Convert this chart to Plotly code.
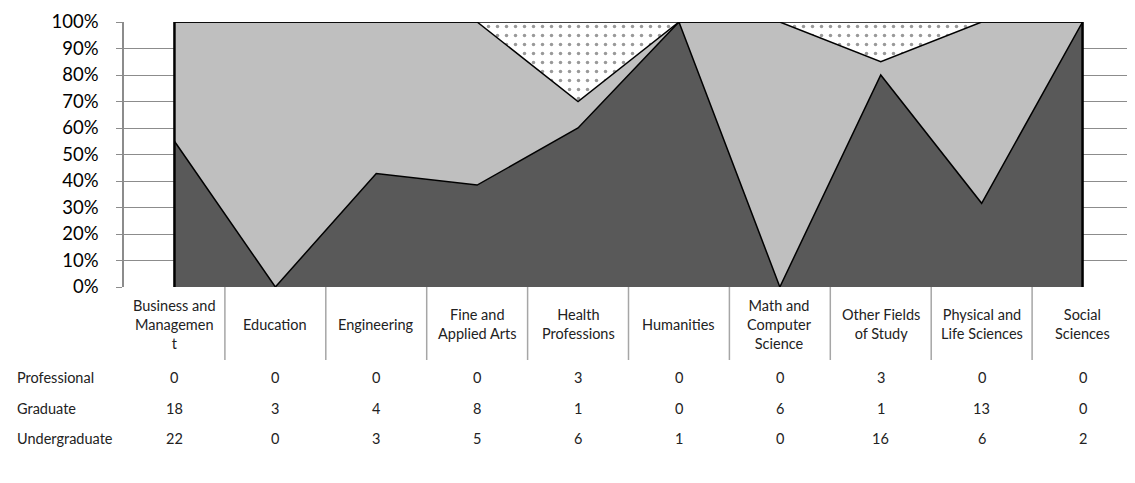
import plotly.graph_objects as go

# data
categories = [
    "Business and Management", "Education", "Engineering", "Fine and Applied Arts",
    "Health Professions", "Humanities", "Math and Computer Science",
    "Other Fields of Study", "Physical and Life Sciences", "Social Sciences",
]
category_labels = [
    "Business and<br>Managemen<br>t", "Education", "Engineering", "Fine and<br>Applied Arts",
    "Health<br>Professions", "Humanities", "Math and<br>Computer<br>Science",
    "Other Fields<br>of Study", "Physical and<br>Life Sciences", "Social<br>Sciences",
]
professional = [0, 0, 0, 0, 3, 0, 0, 3, 0, 0]
graduate = [18, 3, 4, 8, 1, 0, 6, 1, 13, 0]
undergraduate = [22, 0, 3, 5, 6, 1, 0, 16, 6, 2]
y_ticks = list(range(0, 101, 10))

FONT = "Lato"


def main():
    fig = go.Figure()

    # stacked 100% areas, bottom first
    fig.add_trace(go.Scatter(
        x=categories, y=undergraduate, name="Undergraduate",
        stackgroup="one", groupnorm="percent", mode="lines",
        line=dict(color="black", width=1.5), fillcolor="#595959",
    ))
    fig.add_trace(go.Scatter(
        x=categories, y=graduate, name="Graduate",
        stackgroup="one", mode="lines",
        line=dict(color="black", width=1.5), fillcolor="#BFBFBF",
    ))
    fig.add_trace(go.Scatter(
        x=categories, y=professional, name="Professional",
        stackgroup="one", mode="lines",
        line=dict(color="black", width=1.5), fillcolor="white",
        fillpattern=dict(shape=".", fgcolor="#333333", bgcolor="white",
                         size=9, solidity=0.12),
    ))

    # outline edges of the area at both ends
    for c in (categories[0], categories[-1]):
        fig.add_shape(type="line", xref="x", yref="y", x0=c, x1=c, y0=0, y1=100,
                      line=dict(color="black", width=2.5))

    # separators under the plot for the category cells
    for i in range(1, len(categories)):
        fig.add_shape(type="line", xref="x", yref="paper", x0=i - 0.5, x1=i - 0.5,
                      ysizemode="pixel", yanchor=0, y0=0, y1=-73,
                      line=dict(color="#a6a6a6", width=1.5))

    # category labels
    for c, lab in zip(categories, category_labels):
        fig.add_annotation(x=c, y=0, xref="x", yref="paper", text=lab,
                           showarrow=False, yanchor="middle", yshift=-37,
                           font=dict(family=FONT, size=14.5, color="#222"))

    # data table
    rows = [("Professional", professional, -90),
            ("Graduate", graduate, -121),
            ("Undergraduate", undergraduate, -151)]
    for name, vals, shift in rows:
        fig.add_annotation(x=0, y=0, xref="paper", yref="paper", text=name,
                           showarrow=False, xanchor="left", yanchor="middle",
                           xshift=-109, yshift=shift,
                           font=dict(family=FONT, size=14.5, color="#222"))
        for c, v in zip(categories, vals):
            fig.add_annotation(x=c, y=0, xref="x", yref="paper", text=str(v),
                               showarrow=False, yanchor="middle", yshift=shift,
                               font=dict(family=FONT, size=14.5, color="#222"))

    fig.update_xaxes(type="category", range=[-0.5, len(categories) - 0.5],
                     showticklabels=False, showgrid=False, zeroline=False)
    fig.update_yaxes(range=[0, 100], tickvals=y_ticks,
                     ticktext=[f"{v}%" for v in y_ticks],
                     showgrid=True, gridcolor="#8c8c8c", gridwidth=1,
                     ticks="outside", ticklen=6, tickcolor="#8c8c8c",
                     showline=True, linecolor="#8c8c8c", linewidth=1.5,
                     zeroline=False, ticklabelstandoff=14,
                     tickfont=dict(family=FONT, size=18.5, color="black"))

    # page body adds 8px around the figure, so size/margins are reduced by that
    fig.update_layout(
        width=1127, height=475,
        margin=dict(l=116, r=2, t=12, b=196),
        plot_bgcolor="white", paper_bgcolor="white",
        showlegend=False,
    )

    fig.write_html("out.html")


if __name__ == "__main__":
    main()
